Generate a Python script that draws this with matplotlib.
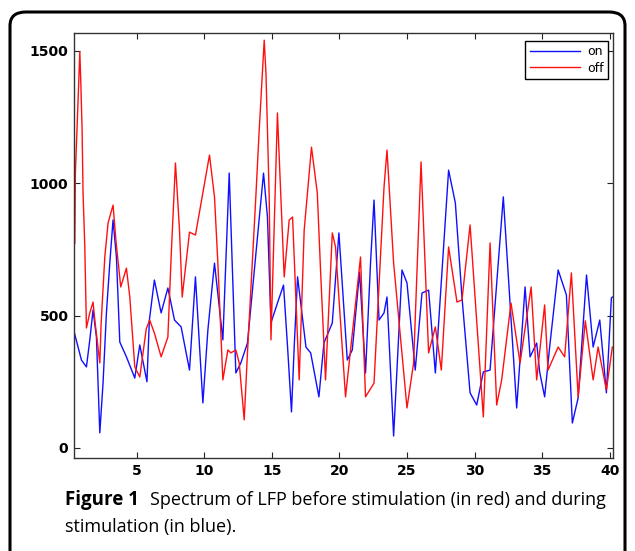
import matplotlib.pyplot as plt
from matplotlib.patches import FancyBboxPatch

# values (frequency, power)
off_x = [0.41, 0.45, 0.58, 0.78, 0.85, 0.95, 1.02, 1.15, 1.27, 1.52, 1.76, 1.89, 2.26, 2.36, 2.63,
         2.87, 3.24, 3.47, 3.81, 4.23, 4.48, 4.85, 5.22, 5.7, 5.95, 6.30, 6.80, 7.30, 7.54, 7.86,
         8.04, 8.16, 8.36, 8.90, 9.34, 10.38, 10.75, 11.0, 11.37, 11.74, 11.96, 12.33, 12.58, 12.95,
         13.19, 13.81, 14.06, 14.43, 14.56, 14.80, 14.93, 15.41, 15.54, 15.91, 16.28, 16.53, 17.02,
         17.39, 17.93, 18.36, 18.60, 18.97, 19.47, 19.71, 20.45, 21.56, 21.93, 22.56, 23.30, 23.52,
         24.01, 25.0, 25.49, 26.04, 26.60, 27.10, 27.54, 28.08, 28.70, 29.07, 29.67, 30.65, 31.15,
         31.64, 32.01, 32.70, 33.37, 34.19, 34.60, 35.19, 35.44, 36.19, 36.67, 37.17, 37.67, 38.2,
         38.78, 39.15, 39.76, 40.2]
off_y = [773, 1038, 1212, 1496, 1389, 1200, 963, 759, 453, 510, 551, 483, 321, 472, 721,
         849, 917, 774, 608, 679, 570, 306, 268, 450, 483, 434, 344, 419, 721, 1076,
         925, 823, 570, 815, 804, 1106, 948, 698, 257, 370, 359, 370, 321, 106,
         359, 948, 1200, 1540, 1416, 948, 408, 1265, 1099, 646, 861, 872, 257,
         823, 1136, 963, 672, 257, 812, 759, 193, 721, 193, 245, 985, 1125,
         698, 151, 321, 1080, 359, 457, 294, 759, 551, 559, 842, 117, 774,
         162, 257, 547, 321, 608, 257, 540, 294, 381, 344, 661, 193, 480,
         257, 381, 219, 381]

on_x = [0.36, 0.90, 1.27, 1.52, 1.76, 2.01, 2.26, 2.50, 2.75, 3.0, 3.24, 3.49, 3.74, 4.23, 4.85,
        5.22, 5.75, 5.93, 6.30, 6.80, 7.30, 7.79, 8.28, 8.90, 9.34, 9.89, 10.26, 10.75, 11.37,
        11.84, 12.33, 12.70, 13.19, 14.38, 14.67, 14.93, 15.41, 15.86, 16.16, 16.45, 16.65, 16.90,
        17.52, 17.87, 18.48, 18.85, 19.47, 19.96, 20.58, 20.95, 21.49, 21.93, 22.30, 22.56, 22.93,
        23.30, 23.52, 24.01, 24.63, 25.0, 25.61, 26.11, 26.60, 27.10, 28.08, 28.58, 29.07, 29.67,
        30.16, 30.65, 31.15, 32.13, 33.12, 33.74, 34.11, 34.60, 34.82, 35.19, 35.56, 36.19, 36.80,
        37.24, 37.67, 38.29, 38.78, 39.27, 39.76, 40.13, 40.2]
on_y = [438, 332, 306, 408, 521, 419, 57, 245, 510, 698, 861, 721, 400, 344, 264,
        389, 250, 483, 634, 510, 604, 483, 457, 294, 646, 170, 445, 698, 408,
        1038, 283, 321, 396, 1038, 872, 472, 547, 615, 381, 136, 381, 646,
        381, 359, 193, 396, 472, 812, 332, 370, 664, 283, 698, 936, 483,
        510, 570, 45, 672, 623, 294, 585, 596, 283, 1049, 925, 570, 208,
        162, 287, 294, 948, 151, 608, 344, 396, 287, 193, 381, 672, 578,
        94, 189, 653, 381, 483, 208, 566, 570]

x_ticks = [5, 10, 15, 20, 25, 30, 35, 40]
y_ticks = [0, 500, 1000, 1500]

fig = plt.figure(figsize=(6.35, 5.51), dpi=100)

# rounded frame around the figure
frame = FancyBboxPatch((10 / 635, -0.05), 615 / 635, 1.05 - 12 / 551,
                       boxstyle="round,pad=0,rounding_size=0.025",
                       transform=fig.transFigure, fill=False,
                       edgecolor='black', linewidth=2.2)
fig.patches.append(frame)

ax = fig.add_axes([74 / 635, 93 / 551, 539 / 635, 425 / 551])
ax.plot(on_x, on_y, color='#1010ff', linewidth=1.0, label='on')
ax.plot(off_x, off_y, color='#ff1010', linewidth=1.0, label='off')

ax.set_xlim(0.35, 40.25)
ax.set_ylim(-38, 1567)
ax.set_xticks(x_ticks)
ax.set_yticks(y_ticks)
ax.tick_params(direction='in', length=4, width=0.8, top=True, right=True,
               labelsize=10, pad=4, colors='#222222', labelcolor='black')
for lab in ax.get_xticklabels() + ax.get_yticklabels():
    lab.set_fontweight('bold')
    lab.set_family(['Liberation Sans Narrow', 'DejaVu Sans'])
for sp in ax.spines.values():
    sp.set_linewidth(1.0)
    sp.set_color('#333333')

leg = ax.legend(loc='upper right', bbox_to_anchor=(0.991, 0.982), borderaxespad=0,
                fontsize=9, handlelength=4.0, fancybox=False, framealpha=1,
                edgecolor='black', borderpad=0.35, labelspacing=0.3, handletextpad=0.6)
leg.get_frame().set_linewidth(1.0)

cap_font = ['Open Sans', 'DejaVu Sans']
fig.text(65 / 635, 1 - 505 / 551, 'Figure 1', fontsize=13.5, fontweight='bold',
         family=cap_font, va='baseline', ha='left')
fig.text(606 / 635, 1 - 505 / 551, 'Spectrum of LFP before stimulation (in red) and during',
         fontsize=13, family=cap_font, va='baseline', ha='right')
fig.text(65 / 635, 1 - 532 / 551, 'stimulation (in blue).', fontsize=13,
         family=cap_font, va='baseline', ha='left')

fig.savefig('out.png', dpi=100)
